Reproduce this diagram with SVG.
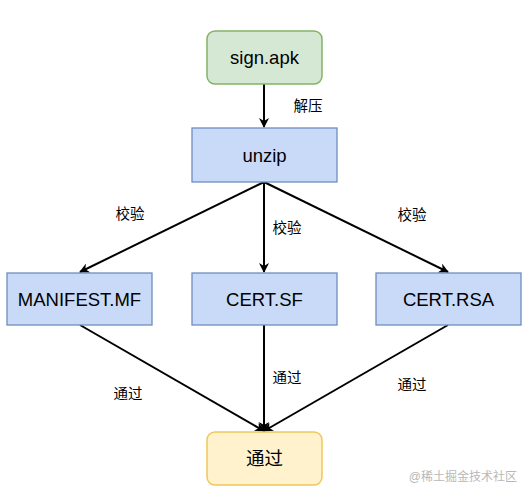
<svg xmlns="http://www.w3.org/2000/svg" width="531" height="501" viewBox="0 0 531 501">
<style>
.n{font-family:"Liberation Sans","Noto Sans CJK SC",sans-serif;font-size:18.5px;fill:#000;text-anchor:middle;dominant-baseline:central}
.l{font-family:"Liberation Sans","Noto Sans CJK SC",sans-serif;font-size:14.5px;fill:#000;text-anchor:middle;dominant-baseline:central}
.blue{fill:#c9daf8;stroke:#6c8ebf;stroke-width:1.3}
.e{fill:none;stroke:#000;stroke-width:2;marker-end:url(#a)}
</style>
<defs>
<marker id="a" viewBox="0 0 10 10" refX="9" refY="5" markerWidth="10" markerHeight="10" markerUnits="userSpaceOnUse" orient="auto">
<path d="M0,0 L10,5 L0,10 L3,5 Z" fill="#000"/>
</marker>
</defs>
<rect width="531" height="501" fill="#fff"/>
<g id="edges">
<path class="e" d="M264,84 L264,127"/>
<path class="e" d="M264,182 L80,272"/>
<path class="e" d="M264,182 L264,272"/>
<path class="e" d="M264,182 L448,272"/>
<path class="e" d="M80,325 L264,431"/>
<path class="e" d="M264,325 L264,431"/>
<path class="e" d="M448,325 L264,431"/>
<text class="l" x="308" y="106">解压</text>
<text class="l" x="130" y="214">校验</text>
<text class="l" x="287" y="228">校验</text>
<text class="l" x="412" y="215">校验</text>
<text class="l" x="128" y="394">通过</text>
<text class="l" x="287" y="378">通过</text>
<text class="l" x="412" y="385">通过</text>
</g>
<g id="sign">
<rect x="207" y="31" width="115" height="53" rx="8" fill="#d5e8d4" stroke="#82b366" stroke-width="1.5"/>
<text class="n" x="264.5" y="57.5">sign.apk</text>
</g>
<g id="unzip">
<rect class="blue" x="192" y="128" width="145" height="54"/>
<text class="n" x="264.5" y="155">unzip</text>
</g>
<g id="manifest">
<rect class="blue" x="7" y="273" width="145" height="52"/>
<text class="n" x="79.5" y="299">MANIFEST.MF</text>
</g>
<g id="certsf">
<rect class="blue" x="192" y="273" width="145" height="52"/>
<text class="n" x="264.5" y="299">CERT.SF</text>
</g>
<g id="certrsa">
<rect class="blue" x="376" y="273" width="145" height="52"/>
<text class="n" x="448.5" y="299">CERT.RSA</text>
</g>
<g id="pass">
<rect x="207" y="432" width="115" height="53" rx="8" fill="#fff2cc" stroke="#f0c75a" stroke-width="1.5"/>
<text class="n" x="264.5" y="458.5">通过</text>
</g>
<text x="517" y="481" font-family="'Liberation Sans','Noto Sans CJK SC',sans-serif" font-size="12" fill="#b8b8b8" text-anchor="end">@稀土掘金技术社区</text>
</svg>
